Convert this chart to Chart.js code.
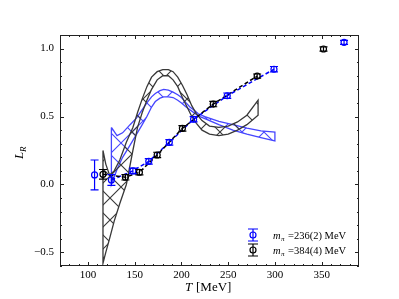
<!doctype html>
<html lang="en">
<head>
<meta charset="UTF-8">
<title>L_R vs T</title>
<style>
  body { margin: 0; background: #fff; }
  #wrap { width: 399px; height: 299px; }
</style>
</head>
<body>
<div id="wrap"><canvas id="chart"></canvas></div>
<script src="https://cdn.jsdelivr.net/npm/chart.js"></script>
<script>
// lattice points, m_pi = 236(2) MeV
const blueT   = [107, 125, 148, 165, 187, 213, 249, 299, 374];
const blueL   = [0.07, 0.033, 0.10, 0.17, 0.31, 0.48, 0.653, 0.848, 1.046];
const blueErr = [0.11, 0.04, 0.02, 0.02, 0.02, 0.02, 0.02, 0.02, 0.015];
// lattice points, m_pi = 384(4) MeV
const blackT   = [116, 140, 155, 174, 201, 234, 281, 352];
const blackL   = [0.075, 0.053, 0.09, 0.217, 0.413, 0.592, 0.798, 0.997];
const blackErr = [0.035, 0.02, 0.02, 0.02, 0.02, 0.02, 0.015, 0.015];

// model bands (upper / lower edge)
const blackBandT  = [116, 119, 123, 128, 134, 141, 148, 153, 158, 163, 168, 174, 180, 186, 191, 196, 201, 206, 211, 216, 222, 230, 240, 250, 260, 270, 282];
const blackBandHi = [0.25, 0.15, 0.07, 0.10, 0.18, 0.31, 0.42, 0.53, 0.63, 0.72, 0.79, 0.83, 0.845, 0.845, 0.83, 0.79, 0.73, 0.66, 0.58, 0.52, 0.47, 0.43, 0.42, 0.43, 0.46, 0.51, 0.62];
const blackBandLo = [-0.58, -0.50, -0.40, -0.27, -0.14, 0.0, 0.25, 0.42, 0.53, 0.62, 0.70, 0.77, 0.80, 0.80, 0.77, 0.72, 0.64, 0.57, 0.50, 0.45, 0.40, 0.37, 0.36, 0.37, 0.40, 0.44, 0.51];

const blueBandT  = [125, 131, 137, 145, 152, 158, 163, 168, 172, 177, 181, 186, 191, 196, 200, 205, 209, 214, 218, 225, 240, 255, 270, 285, 300];
const blueBandHi = [0.42, 0.36, 0.38, 0.44, 0.49, 0.55, 0.60, 0.645, 0.67, 0.69, 0.70, 0.695, 0.68, 0.66, 0.64, 0.60, 0.57, 0.545, 0.52, 0.50, 0.465, 0.44, 0.415, 0.395, 0.385];
const blueBandLo = [0.0, 0.11, 0.20, 0.29, 0.37, 0.44, 0.50, 0.57, 0.61, 0.635, 0.645, 0.645, 0.64, 0.62, 0.60, 0.57, 0.55, 0.525, 0.505, 0.485, 0.44, 0.40, 0.37, 0.345, 0.32];

const xTicks = [100, 150, 200, 250, 300, 350];
const yTicks = [-0.5, 0.0, 0.5, 1.0];
const legendText = ['=236(2) MeV', '=384(4) MeV'];

const BLUE = '#0000ff';
const BLUE_BAND = '#4646ff';
const BLACK = '#000000';
const GREY_BAND = '#383838';
const SERIF = "'Liberation Serif', 'DejaVu Serif', serif";

const pts = (xs, ys) => xs.map((x, i) => ({x: x, y: ys[i]}));
// closed outline: upper edge forward, lower edge back
const band = (xs, hi, lo) => pts(xs, hi).concat(pts(xs, lo).reverse(), [{x: xs[0], y: hi[0]}]);

function hatch(color) {
    const n = 22;
    const c = document.createElement('canvas');
    c.width = c.height = n;
    const g = c.getContext('2d');
    g.strokeStyle = color;
    g.lineWidth = 1.1;
    g.beginPath();
    g.moveTo(0, 0); g.lineTo(n, n);
    g.moveTo(n, 0); g.lineTo(0, n);
    g.stroke();
    return g.createPattern(c, 'repeat');
}

const decor = {
    id: 'decor',
    afterDatasetsDraw(chart) {
        const {ctx, chartArea: a, scales: {x, y}} = chart;
        ctx.save();
        // error bars
        chart.data.datasets.forEach((ds, i) => {
            if (!ds.err) return;
            ctx.strokeStyle = ds.borderColor;
            ctx.lineWidth = 1.2;
            ds.data.forEach((p, j) => {
                const px = x.getPixelForValue(p.x);
                const y0 = y.getPixelForValue(p.y - ds.err[j]);
                const y1 = y.getPixelForValue(p.y + ds.err[j]);
                ctx.beginPath();
                ctx.moveTo(px, y0); ctx.lineTo(px, y1);
                ctx.moveTo(px - 4, y0); ctx.lineTo(px + 4, y0);
                ctx.moveTo(px - 4, y1); ctx.lineTo(px + 4, y1);
                ctx.stroke();
            });
        });
        // frame and inward ticks
        ctx.strokeStyle = '#222';
        ctx.lineWidth = 1;
        ctx.strokeRect(a.left + 0.5, a.top + 0.5, a.right - a.left - 1, a.bottom - a.top - 1);
        ctx.beginPath();
        for (let v = 80; v <= 380; v += 10) {
            const px = Math.round(x.getPixelForValue(v)) + 0.5;
            const len = v % 50 === 0 ? 4 : 2;
            ctx.moveTo(px, a.bottom); ctx.lineTo(px, a.bottom - len);
            ctx.moveTo(px, a.top); ctx.lineTo(px, a.top + len);
        }
        for (let k = -6; k <= 11; k++) {
            const py = Math.round(y.getPixelForValue(k / 10)) + 0.5;
            const len = k % 5 === 0 ? 4 : 2;
            ctx.moveTo(a.left, py); ctx.lineTo(a.left + len, py);
            ctx.moveTo(a.right, py); ctx.lineTo(a.right - len, py);
        }
        ctx.stroke();

        // axis titles
        ctx.fillStyle = '#000';
        ctx.textBaseline = 'alphabetic';
        ctx.textAlign = 'left';
        ctx.font = 'italic 13px ' + SERIF;
        ctx.fillText('T', 185, 291);
        ctx.font = '13px ' + SERIF;
        ctx.fillText('[MeV]', 196, 291);

        ctx.save();
        ctx.translate(23, 152);
        ctx.rotate(-Math.PI / 2);
        ctx.font = 'italic 13px ' + SERIF;
        ctx.fillText('L', -7, 0);
        ctx.font = 'italic 9px ' + SERIF;
        ctx.fillText('R', 0, 3);
        ctx.restore();

        // legend
        const cols = [BLUE, BLACK];
        legendText.forEach((t, i) => {
            const cy = 235 + i * 15;
            const cx = 253;
            ctx.strokeStyle = cols[i];
            ctx.lineWidth = 1.2;
            ctx.beginPath();
            ctx.moveTo(cx, cy - 6); ctx.lineTo(cx, cy + 6);
            ctx.moveTo(cx - 5, cy - 6); ctx.lineTo(cx + 5, cy - 6);
            ctx.moveTo(cx - 5, cy + 6); ctx.lineTo(cx + 5, cy + 6);
            ctx.stroke();
            ctx.beginPath();
            ctx.arc(cx, cy, 3, 0, Math.PI * 2);
            ctx.stroke();
            ctx.fillStyle = '#000';
            ctx.font = 'italic 10.5px ' + SERIF;
            ctx.fillText('m', 273, cy + 3.5);
            ctx.font = 'italic 7px ' + SERIF;
            ctx.fillText('π', 281, cy + 5.5);
            ctx.font = '10.5px ' + SERIF;
            ctx.fillText(t, 288, cy + 3.5);
        });
        ctx.restore();
    }
};

const pointSet = (xs, ys, err, color) => ({
    data: pts(xs, ys), err: err,
    showLine: false, borderColor: color, backgroundColor: 'rgba(0,0,0,0)',
    pointRadius: 3, pointBorderWidth: 1.2, pointHoverRadius: 3, order: 1
});
const lineSet = (xs, ys, color) => ({
    data: pts(xs, ys), borderColor: color, borderWidth: 1.5,
    borderDash: [4, 2.5], pointRadius: 0, fill: false, tension: 0, order: 2
});
const bandSet = (xs, hi, lo, color) => ({
    data: band(xs, hi, lo), borderColor: color, borderWidth: 1.3,
    backgroundColor: hatch(color), fill: 'shape', pointRadius: 0, tension: 0, order: 3
});

new Chart(document.getElementById('chart'), {
    type: 'line',
    data: {
        datasets: [
            bandSet(blackBandT, blackBandHi, blackBandLo, GREY_BAND),
            bandSet(blueBandT, blueBandHi, blueBandLo, BLUE_BAND),
            lineSet(blackT.slice(0, -1), blackL.slice(0, -1), BLACK),
            lineSet(blueT.slice(1, -1), blueL.slice(1, -1), BLUE),
            pointSet(blackT, blackL, blackErr, BLACK),
            pointSet(blueT, blueL, blueErr, BLUE)
        ]
    },
    options: {
        responsive: true,
        maintainAspectRatio: false,
        animation: false,
        layout: {padding: {top: 35, right: 40, left: 0, bottom: 0}},
        plugins: {legend: {display: false}, tooltip: {enabled: false}},
        scales: {
            x: {
                type: 'linear', min: 70, max: 390,
                afterBuildTicks: s => { s.ticks = xTicks.map(v => ({value: v})); },
                afterFit: s => { s.height = 33; },
                grid: {display: false, drawTicks: false},
                border: {display: false},
                ticks: {padding: 3, color: '#000', font: {family: SERIF, size: 11}}
            },
            y: {
                type: 'linear', min: -0.6, max: 1.1,
                afterBuildTicks: s => { s.ticks = yTicks.map(v => ({value: v})); },
                afterFit: s => { s.width = 60; },
                grid: {display: false, drawTicks: false},
                border: {display: false},
                ticks: {
                    padding: 6, color: '#000', font: {family: SERIF, size: 11},
                    callback: v => v.toFixed(1).replace('-', '\u2212')
                }
            }
        }
    },
    plugins: [decor]
});
</script>
</body>
</html>
